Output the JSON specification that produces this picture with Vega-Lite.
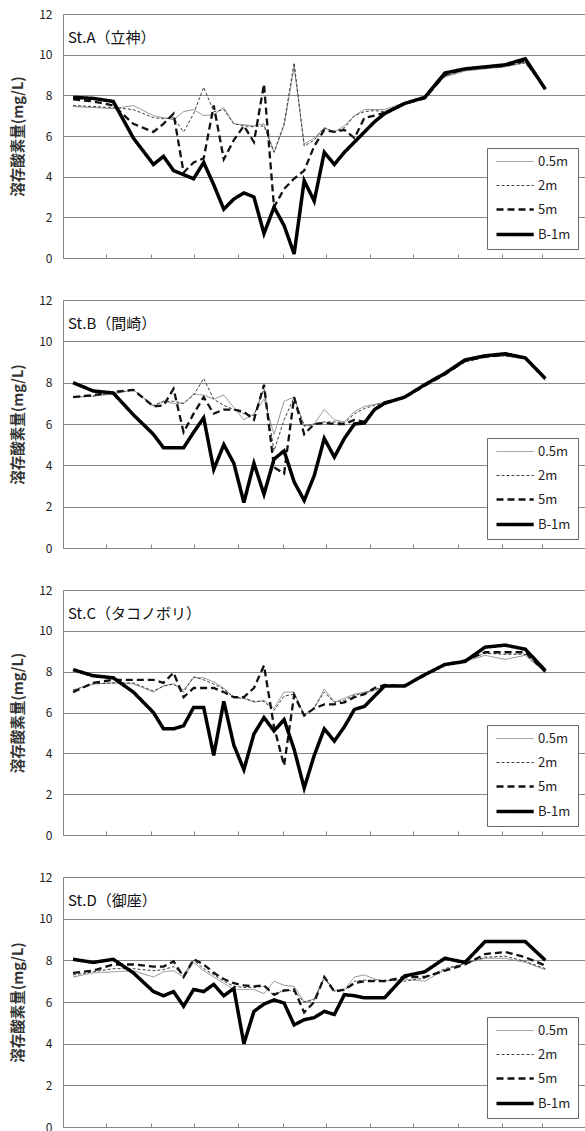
{
"$schema":"https://vega.github.io/schema/vega-lite/v6.json",
"background":"white",
"padding":{"left":10,"top":8,"right":0,"bottom":0},
"bounds":"flush",
"spacing":42,
"config":{
"font":"Noto Sans CJK JP",
"view":{"stroke":null},
"axisY":{"domainColor":"#868686","gridColor":"#868686","gridWidth":1,"ticks":false,"labelPadding":11,"labelFontSize":12,"labelColor":"#222","titleFontSize":14.5,"titleFontWeight":"bold","titleColor":"#333","titlePadding":13,"values":[0,2,4,6,8,10,12]},
"axisX":{"domainColor":"#868686","tickColor":"#868686","tickSize":-4,"labels":false,"grid":false,"title":null},
"legend":{"orient":"bottom-right","offset":9,"title":null,"symbolType":"M-1,0H5.2","symbolSize":144,"symbolOffset":2,"labelOffset":29,"labelFontSize":13,"labelColor":"#222","strokeColor":"#666","fillColor":"white","padding":7,"rowPadding":10}
},
"resolve":{"scale":{"x":"independent","y":"independent","color":"independent","strokeDash":"independent"},"legend":{"color":"independent","strokeDash":"independent"}},
"datasets":{
"A":[
{"date":"2010-04-08","depth":"0.5m","do":7.45},{"date":"2010-04-22","depth":"0.5m","do":7.4},{"date":"2010-05-06","depth":"0.5m","do":7.35},{"date":"2010-05-20","depth":"0.5m","do":7.5},{"date":"2010-06-03","depth":"0.5m","do":7.0},{"date":"2010-06-10","depth":"0.5m","do":6.9},{"date":"2010-06-17","depth":"0.5m","do":6.8},{"date":"2010-06-24","depth":"0.5m","do":7.2},{"date":"2010-07-01","depth":"0.5m","do":7.3},{"date":"2010-07-08","depth":"0.5m","do":7.0},{"date":"2010-07-15","depth":"0.5m","do":7.05},{"date":"2010-07-22","depth":"0.5m","do":7.4},{"date":"2010-07-29","depth":"0.5m","do":6.6},{"date":"2010-08-05","depth":"0.5m","do":6.55},{"date":"2010-08-12","depth":"0.5m","do":6.5},{"date":"2010-08-19","depth":"0.5m","do":6.6},{"date":"2010-08-26","depth":"0.5m","do":5.2},{"date":"2010-09-02","depth":"0.5m","do":6.5},{"date":"2010-09-09","depth":"0.5m","do":9.4},{"date":"2010-09-16","depth":"0.5m","do":5.6},{"date":"2010-09-23","depth":"0.5m","do":5.9},{"date":"2010-09-30","depth":"0.5m","do":6.4},{"date":"2010-10-07","depth":"0.5m","do":6.2},{"date":"2010-10-14","depth":"0.5m","do":6.5},{"date":"2010-10-21","depth":"0.5m","do":7.0},{"date":"2010-10-28","depth":"0.5m","do":7.3},{"date":"2010-11-04","depth":"0.5m","do":7.3},{"date":"2010-11-11","depth":"0.5m","do":7.3},{"date":"2010-11-25","depth":"0.5m","do":7.65},{"date":"2010-12-09","depth":"0.5m","do":7.9},{"date":"2010-12-23","depth":"0.5m","do":8.9},{"date":"2011-01-06","depth":"0.5m","do":9.2},{"date":"2011-02-03","depth":"0.5m","do":9.4},{"date":"2011-02-17","depth":"0.5m","do":9.6},{"date":"2011-03-03","depth":"0.5m","do":8.3},
{"date":"2010-04-08","depth":"2m","do":7.5},{"date":"2010-04-22","depth":"2m","do":7.45},{"date":"2010-05-06","depth":"2m","do":7.4},{"date":"2010-05-20","depth":"2m","do":7.3},{"date":"2010-06-03","depth":"2m","do":6.9},{"date":"2010-06-10","depth":"2m","do":6.85},{"date":"2010-06-17","depth":"2m","do":6.9},{"date":"2010-06-24","depth":"2m","do":6.2},{"date":"2010-07-01","depth":"2m","do":7.1},{"date":"2010-07-08","depth":"2m","do":8.4},{"date":"2010-07-15","depth":"2m","do":7.2},{"date":"2010-07-22","depth":"2m","do":7.3},{"date":"2010-07-29","depth":"2m","do":6.6},{"date":"2010-08-05","depth":"2m","do":6.5},{"date":"2010-08-12","depth":"2m","do":6.45},{"date":"2010-08-19","depth":"2m","do":6.5},{"date":"2010-08-26","depth":"2m","do":5.2},{"date":"2010-09-02","depth":"2m","do":6.6},{"date":"2010-09-09","depth":"2m","do":9.6},{"date":"2010-09-16","depth":"2m","do":5.5},{"date":"2010-09-23","depth":"2m","do":5.8},{"date":"2010-09-30","depth":"2m","do":6.4},{"date":"2010-10-07","depth":"2m","do":6.2},{"date":"2010-10-14","depth":"2m","do":6.4},{"date":"2010-10-21","depth":"2m","do":7.0},{"date":"2010-10-28","depth":"2m","do":7.2},{"date":"2010-11-04","depth":"2m","do":7.25},{"date":"2010-11-11","depth":"2m","do":7.2},{"date":"2010-11-25","depth":"2m","do":7.65},{"date":"2010-12-09","depth":"2m","do":7.9},{"date":"2010-12-23","depth":"2m","do":8.95},{"date":"2011-01-06","depth":"2m","do":9.25},{"date":"2011-02-03","depth":"2m","do":9.45},{"date":"2011-02-17","depth":"2m","do":9.6},{"date":"2011-03-03","depth":"2m","do":8.3},
{"date":"2010-04-08","depth":"5m","do":7.8},{"date":"2010-04-22","depth":"5m","do":7.7},{"date":"2010-05-06","depth":"5m","do":7.5},{"date":"2010-05-20","depth":"5m","do":6.6},{"date":"2010-06-03","depth":"5m","do":6.2},{"date":"2010-06-10","depth":"5m","do":6.6},{"date":"2010-06-17","depth":"5m","do":7.1},{"date":"2010-06-24","depth":"5m","do":4.2},{"date":"2010-07-01","depth":"5m","do":4.7},{"date":"2010-07-08","depth":"5m","do":4.9},{"date":"2010-07-15","depth":"5m","do":7.5},{"date":"2010-07-22","depth":"5m","do":4.85},{"date":"2010-07-29","depth":"5m","do":5.8},{"date":"2010-08-05","depth":"5m","do":6.5},{"date":"2010-08-12","depth":"5m","do":5.7},{"date":"2010-08-19","depth":"5m","do":8.55},{"date":"2010-08-26","depth":"5m","do":2.5},{"date":"2010-09-02","depth":"5m","do":3.4},{"date":"2010-09-09","depth":"5m","do":3.9},{"date":"2010-09-16","depth":"5m","do":4.3},{"date":"2010-09-23","depth":"5m","do":5.5},{"date":"2010-09-30","depth":"5m","do":6.3},{"date":"2010-10-07","depth":"5m","do":6.2},{"date":"2010-10-14","depth":"5m","do":6.3},{"date":"2010-10-21","depth":"5m","do":5.9},{"date":"2010-10-28","depth":"5m","do":6.9},{"date":"2010-11-04","depth":"5m","do":7.0},{"date":"2010-11-11","depth":"5m","do":7.15},{"date":"2010-11-25","depth":"5m","do":7.6},{"date":"2010-12-09","depth":"5m","do":7.85},{"date":"2010-12-23","depth":"5m","do":9.0},{"date":"2011-01-06","depth":"5m","do":9.3},{"date":"2011-02-03","depth":"5m","do":9.45},{"date":"2011-02-17","depth":"5m","do":9.7},{"date":"2011-03-03","depth":"5m","do":8.3},
{"date":"2010-04-08","depth":"B-1m","do":7.9},{"date":"2010-04-22","depth":"B-1m","do":7.85},{"date":"2010-05-06","depth":"B-1m","do":7.7},{"date":"2010-05-20","depth":"B-1m","do":5.9},{"date":"2010-06-03","depth":"B-1m","do":4.6},{"date":"2010-06-10","depth":"B-1m","do":5.0},{"date":"2010-06-17","depth":"B-1m","do":4.3},{"date":"2010-06-24","depth":"B-1m","do":4.1},{"date":"2010-07-01","depth":"B-1m","do":3.9},{"date":"2010-07-08","depth":"B-1m","do":4.7},{"date":"2010-07-15","depth":"B-1m","do":3.6},{"date":"2010-07-22","depth":"B-1m","do":2.4},{"date":"2010-07-29","depth":"B-1m","do":2.9},{"date":"2010-08-05","depth":"B-1m","do":3.2},{"date":"2010-08-12","depth":"B-1m","do":3.0},{"date":"2010-08-19","depth":"B-1m","do":1.2},{"date":"2010-08-26","depth":"B-1m","do":2.5},{"date":"2010-09-02","depth":"B-1m","do":1.6},{"date":"2010-09-09","depth":"B-1m","do":0.2},{"date":"2010-09-16","depth":"B-1m","do":3.8},{"date":"2010-09-23","depth":"B-1m","do":2.8},{"date":"2010-09-30","depth":"B-1m","do":5.2},{"date":"2010-10-07","depth":"B-1m","do":4.6},{"date":"2010-10-14","depth":"B-1m","do":5.2},{"date":"2010-10-21","depth":"B-1m","do":5.7},{"date":"2010-10-28","depth":"B-1m","do":6.2},{"date":"2010-11-04","depth":"B-1m","do":6.7},{"date":"2010-11-11","depth":"B-1m","do":7.1},{"date":"2010-11-25","depth":"B-1m","do":7.6},{"date":"2010-12-09","depth":"B-1m","do":7.9},{"date":"2010-12-23","depth":"B-1m","do":9.1},{"date":"2011-01-06","depth":"B-1m","do":9.3},{"date":"2011-02-03","depth":"B-1m","do":9.5},{"date":"2011-02-17","depth":"B-1m","do":9.8},{"date":"2011-03-03","depth":"B-1m","do":8.3}
],
"B":[
{"date":"2010-04-08","depth":"0.5m","do":7.3},{"date":"2010-04-22","depth":"0.5m","do":7.35},{"date":"2010-05-06","depth":"0.5m","do":7.45},{"date":"2010-05-20","depth":"0.5m","do":7.65},{"date":"2010-06-03","depth":"0.5m","do":6.85},{"date":"2010-06-10","depth":"0.5m","do":7.1},{"date":"2010-06-17","depth":"0.5m","do":7.0},{"date":"2010-06-24","depth":"0.5m","do":7.0},{"date":"2010-07-01","depth":"0.5m","do":7.45},{"date":"2010-07-08","depth":"0.5m","do":7.4},{"date":"2010-07-15","depth":"0.5m","do":7.2},{"date":"2010-07-22","depth":"0.5m","do":7.4},{"date":"2010-07-29","depth":"0.5m","do":6.8},{"date":"2010-08-05","depth":"0.5m","do":6.2},{"date":"2010-08-12","depth":"0.5m","do":6.5},{"date":"2010-08-19","depth":"0.5m","do":7.2},{"date":"2010-08-26","depth":"0.5m","do":5.5},{"date":"2010-09-02","depth":"0.5m","do":7.1},{"date":"2010-09-09","depth":"0.5m","do":7.3},{"date":"2010-09-16","depth":"0.5m","do":5.9},{"date":"2010-09-23","depth":"0.5m","do":6.0},{"date":"2010-09-30","depth":"0.5m","do":6.7},{"date":"2010-10-07","depth":"0.5m","do":6.2},{"date":"2010-10-14","depth":"0.5m","do":6.1},{"date":"2010-10-21","depth":"0.5m","do":6.6},{"date":"2010-10-28","depth":"0.5m","do":6.85},{"date":"2010-11-04","depth":"0.5m","do":6.95},{"date":"2010-11-11","depth":"0.5m","do":7.05},{"date":"2010-11-25","depth":"0.5m","do":7.3},{"date":"2010-12-09","depth":"0.5m","do":7.85},{"date":"2010-12-23","depth":"0.5m","do":8.4},{"date":"2011-01-06","depth":"0.5m","do":9.0},{"date":"2011-01-20","depth":"0.5m","do":9.25},{"date":"2011-02-03","depth":"0.5m","do":9.3},{"date":"2011-02-17","depth":"0.5m","do":9.15},{"date":"2011-03-03","depth":"0.5m","do":8.1},
{"date":"2010-04-08","depth":"2m","do":7.3},{"date":"2010-04-22","depth":"2m","do":7.35},{"date":"2010-05-06","depth":"2m","do":7.5},{"date":"2010-05-20","depth":"2m","do":7.65},{"date":"2010-06-03","depth":"2m","do":6.9},{"date":"2010-06-10","depth":"2m","do":7.1},{"date":"2010-06-17","depth":"2m","do":7.1},{"date":"2010-06-24","depth":"2m","do":7.0},{"date":"2010-07-01","depth":"2m","do":7.4},{"date":"2010-07-08","depth":"2m","do":8.2},{"date":"2010-07-15","depth":"2m","do":7.2},{"date":"2010-07-22","depth":"2m","do":6.9},{"date":"2010-07-29","depth":"2m","do":6.7},{"date":"2010-08-05","depth":"2m","do":6.5},{"date":"2010-08-12","depth":"2m","do":6.4},{"date":"2010-08-19","depth":"2m","do":7.7},{"date":"2010-08-26","depth":"2m","do":4.7},{"date":"2010-09-02","depth":"2m","do":6.2},{"date":"2010-09-09","depth":"2m","do":7.3},{"date":"2010-09-16","depth":"2m","do":5.9},{"date":"2010-09-23","depth":"2m","do":6.0},{"date":"2010-09-30","depth":"2m","do":6.1},{"date":"2010-10-07","depth":"2m","do":6.1},{"date":"2010-10-14","depth":"2m","do":6.05},{"date":"2010-10-21","depth":"2m","do":6.5},{"date":"2010-10-28","depth":"2m","do":6.75},{"date":"2010-11-04","depth":"2m","do":6.9},{"date":"2010-11-11","depth":"2m","do":7.05},{"date":"2010-11-25","depth":"2m","do":7.3},{"date":"2010-12-09","depth":"2m","do":7.85},{"date":"2010-12-23","depth":"2m","do":8.4},{"date":"2011-01-06","depth":"2m","do":9.0},{"date":"2011-01-20","depth":"2m","do":9.25},{"date":"2011-02-03","depth":"2m","do":9.3},{"date":"2011-02-17","depth":"2m","do":9.15},{"date":"2011-03-03","depth":"2m","do":8.1},
{"date":"2010-04-08","depth":"5m","do":7.3},{"date":"2010-04-22","depth":"5m","do":7.4},{"date":"2010-05-06","depth":"5m","do":7.55},{"date":"2010-05-20","depth":"5m","do":7.65},{"date":"2010-06-03","depth":"5m","do":6.85},{"date":"2010-06-10","depth":"5m","do":6.9},{"date":"2010-06-17","depth":"5m","do":7.7},{"date":"2010-06-24","depth":"5m","do":5.6},{"date":"2010-07-01","depth":"5m","do":6.5},{"date":"2010-07-08","depth":"5m","do":7.3},{"date":"2010-07-15","depth":"5m","do":6.5},{"date":"2010-07-22","depth":"5m","do":6.7},{"date":"2010-07-29","depth":"5m","do":6.7},{"date":"2010-08-05","depth":"5m","do":6.6},{"date":"2010-08-12","depth":"5m","do":6.2},{"date":"2010-08-19","depth":"5m","do":7.9},{"date":"2010-08-26","depth":"5m","do":3.9},{"date":"2010-09-02","depth":"5m","do":3.6},{"date":"2010-09-09","depth":"5m","do":7.3},{"date":"2010-09-16","depth":"5m","do":5.5},{"date":"2010-09-23","depth":"5m","do":6.0},{"date":"2010-09-30","depth":"5m","do":6.05},{"date":"2010-10-07","depth":"5m","do":6.0},{"date":"2010-10-14","depth":"5m","do":6.0},{"date":"2010-10-21","depth":"5m","do":6.2},{"date":"2010-10-28","depth":"5m","do":6.1},{"date":"2010-11-04","depth":"5m","do":6.7},{"date":"2010-11-11","depth":"5m","do":7.05},{"date":"2010-11-25","depth":"5m","do":7.3},{"date":"2010-12-09","depth":"5m","do":7.85},{"date":"2010-12-23","depth":"5m","do":8.4},{"date":"2011-01-06","depth":"5m","do":9.05},{"date":"2011-01-20","depth":"5m","do":9.25},{"date":"2011-02-03","depth":"5m","do":9.35},{"date":"2011-02-17","depth":"5m","do":9.2},{"date":"2011-03-03","depth":"5m","do":8.2},
{"date":"2010-04-08","depth":"B-1m","do":8.0},{"date":"2010-04-22","depth":"B-1m","do":7.6},{"date":"2010-05-06","depth":"B-1m","do":7.5},{"date":"2010-05-20","depth":"B-1m","do":6.45},{"date":"2010-06-03","depth":"B-1m","do":5.5},{"date":"2010-06-10","depth":"B-1m","do":4.85},{"date":"2010-06-17","depth":"B-1m","do":4.85},{"date":"2010-06-24","depth":"B-1m","do":4.85},{"date":"2010-07-01","depth":"B-1m","do":5.6},{"date":"2010-07-08","depth":"B-1m","do":6.3},{"date":"2010-07-15","depth":"B-1m","do":3.8},{"date":"2010-07-22","depth":"B-1m","do":5.0},{"date":"2010-07-29","depth":"B-1m","do":4.1},{"date":"2010-08-05","depth":"B-1m","do":2.2},{"date":"2010-08-12","depth":"B-1m","do":4.1},{"date":"2010-08-19","depth":"B-1m","do":2.6},{"date":"2010-08-26","depth":"B-1m","do":4.3},{"date":"2010-09-02","depth":"B-1m","do":4.7},{"date":"2010-09-09","depth":"B-1m","do":3.2},{"date":"2010-09-16","depth":"B-1m","do":2.3},{"date":"2010-09-23","depth":"B-1m","do":3.5},{"date":"2010-09-30","depth":"B-1m","do":5.3},{"date":"2010-10-07","depth":"B-1m","do":4.4},{"date":"2010-10-14","depth":"B-1m","do":5.3},{"date":"2010-10-21","depth":"B-1m","do":6.0},{"date":"2010-10-28","depth":"B-1m","do":6.05},{"date":"2010-11-04","depth":"B-1m","do":6.7},{"date":"2010-11-11","depth":"B-1m","do":7.0},{"date":"2010-11-25","depth":"B-1m","do":7.3},{"date":"2010-12-09","depth":"B-1m","do":7.9},{"date":"2010-12-23","depth":"B-1m","do":8.45},{"date":"2011-01-06","depth":"B-1m","do":9.1},{"date":"2011-01-20","depth":"B-1m","do":9.3},{"date":"2011-02-03","depth":"B-1m","do":9.4},{"date":"2011-02-17","depth":"B-1m","do":9.2},{"date":"2011-03-03","depth":"B-1m","do":8.2}
],
"C":[
{"date":"2010-04-08","depth":"0.5m","do":7.1},{"date":"2010-04-22","depth":"0.5m","do":7.4},{"date":"2010-05-06","depth":"0.5m","do":7.45},{"date":"2010-05-20","depth":"0.5m","do":7.4},{"date":"2010-06-03","depth":"0.5m","do":7.0},{"date":"2010-06-10","depth":"0.5m","do":7.3},{"date":"2010-06-17","depth":"0.5m","do":7.4},{"date":"2010-06-24","depth":"0.5m","do":7.1},{"date":"2010-07-01","depth":"0.5m","do":7.7},{"date":"2010-07-08","depth":"0.5m","do":7.7},{"date":"2010-07-15","depth":"0.5m","do":7.5},{"date":"2010-07-22","depth":"0.5m","do":7.2},{"date":"2010-07-29","depth":"0.5m","do":6.7},{"date":"2010-08-05","depth":"0.5m","do":6.7},{"date":"2010-08-12","depth":"0.5m","do":6.5},{"date":"2010-08-19","depth":"0.5m","do":6.6},{"date":"2010-08-26","depth":"0.5m","do":6.2},{"date":"2010-09-02","depth":"0.5m","do":7.0},{"date":"2010-09-09","depth":"0.5m","do":7.0},{"date":"2010-09-16","depth":"0.5m","do":5.85},{"date":"2010-09-23","depth":"0.5m","do":6.2},{"date":"2010-09-30","depth":"0.5m","do":7.15},{"date":"2010-10-07","depth":"0.5m","do":6.5},{"date":"2010-10-14","depth":"0.5m","do":6.7},{"date":"2010-10-21","depth":"0.5m","do":6.9},{"date":"2010-10-28","depth":"0.5m","do":7.0},{"date":"2010-11-04","depth":"0.5m","do":7.1},{"date":"2010-11-11","depth":"0.5m","do":7.3},{"date":"2010-11-25","depth":"0.5m","do":7.3},{"date":"2010-12-09","depth":"0.5m","do":7.85},{"date":"2010-12-23","depth":"0.5m","do":8.35},{"date":"2011-01-06","depth":"0.5m","do":8.5},{"date":"2011-01-20","depth":"0.5m","do":8.8},{"date":"2011-02-03","depth":"0.5m","do":8.6},{"date":"2011-02-17","depth":"0.5m","do":8.8},{"date":"2011-03-03","depth":"0.5m","do":7.95},
{"date":"2010-04-08","depth":"2m","do":7.1},{"date":"2010-04-22","depth":"2m","do":7.4},{"date":"2010-05-06","depth":"2m","do":7.45},{"date":"2010-05-20","depth":"2m","do":7.45},{"date":"2010-06-03","depth":"2m","do":7.05},{"date":"2010-06-10","depth":"2m","do":7.3},{"date":"2010-06-17","depth":"2m","do":7.4},{"date":"2010-06-24","depth":"2m","do":7.0},{"date":"2010-07-01","depth":"2m","do":7.75},{"date":"2010-07-08","depth":"2m","do":7.6},{"date":"2010-07-15","depth":"2m","do":7.4},{"date":"2010-07-22","depth":"2m","do":7.15},{"date":"2010-07-29","depth":"2m","do":6.75},{"date":"2010-08-05","depth":"2m","do":6.7},{"date":"2010-08-12","depth":"2m","do":6.55},{"date":"2010-08-19","depth":"2m","do":6.55},{"date":"2010-08-26","depth":"2m","do":6.1},{"date":"2010-09-02","depth":"2m","do":6.8},{"date":"2010-09-09","depth":"2m","do":6.9},{"date":"2010-09-16","depth":"2m","do":5.9},{"date":"2010-09-23","depth":"2m","do":6.25},{"date":"2010-09-30","depth":"2m","do":7.0},{"date":"2010-10-07","depth":"2m","do":6.5},{"date":"2010-10-14","depth":"2m","do":6.6},{"date":"2010-10-21","depth":"2m","do":6.85},{"date":"2010-10-28","depth":"2m","do":6.95},{"date":"2010-11-04","depth":"2m","do":7.1},{"date":"2010-11-11","depth":"2m","do":7.3},{"date":"2010-11-25","depth":"2m","do":7.3},{"date":"2010-12-09","depth":"2m","do":7.85},{"date":"2010-12-23","depth":"2m","do":8.35},{"date":"2011-01-06","depth":"2m","do":8.55},{"date":"2011-01-20","depth":"2m","do":8.9},{"date":"2011-02-03","depth":"2m","do":8.85},{"date":"2011-02-17","depth":"2m","do":8.85},{"date":"2011-03-03","depth":"2m","do":7.95},
{"date":"2010-04-08","depth":"5m","do":7.0},{"date":"2010-04-22","depth":"5m","do":7.45},{"date":"2010-05-06","depth":"5m","do":7.6},{"date":"2010-05-20","depth":"5m","do":7.6},{"date":"2010-06-03","depth":"5m","do":7.6},{"date":"2010-06-10","depth":"5m","do":7.45},{"date":"2010-06-17","depth":"5m","do":7.95},{"date":"2010-06-24","depth":"5m","do":6.75},{"date":"2010-07-01","depth":"5m","do":7.2},{"date":"2010-07-08","depth":"5m","do":7.2},{"date":"2010-07-15","depth":"5m","do":7.2},{"date":"2010-07-22","depth":"5m","do":7.0},{"date":"2010-07-29","depth":"5m","do":6.75},{"date":"2010-08-05","depth":"5m","do":6.75},{"date":"2010-08-12","depth":"5m","do":7.2},{"date":"2010-08-19","depth":"5m","do":8.3},{"date":"2010-08-26","depth":"5m","do":5.3},{"date":"2010-09-02","depth":"5m","do":3.4},{"date":"2010-09-09","depth":"5m","do":6.85},{"date":"2010-09-16","depth":"5m","do":5.85},{"date":"2010-09-23","depth":"5m","do":6.2},{"date":"2010-09-30","depth":"5m","do":6.4},{"date":"2010-10-07","depth":"5m","do":6.4},{"date":"2010-10-14","depth":"5m","do":6.5},{"date":"2010-10-21","depth":"5m","do":6.75},{"date":"2010-10-28","depth":"5m","do":6.9},{"date":"2010-11-04","depth":"5m","do":7.2},{"date":"2010-11-11","depth":"5m","do":7.35},{"date":"2010-11-25","depth":"5m","do":7.3},{"date":"2010-12-09","depth":"5m","do":7.85},{"date":"2010-12-23","depth":"5m","do":8.35},{"date":"2011-01-06","depth":"5m","do":8.55},{"date":"2011-01-20","depth":"5m","do":8.95},{"date":"2011-02-03","depth":"5m","do":8.95},{"date":"2011-02-17","depth":"5m","do":8.95},{"date":"2011-03-03","depth":"5m","do":8.0},
{"date":"2010-04-08","depth":"B-1m","do":8.1},{"date":"2010-04-22","depth":"B-1m","do":7.8},{"date":"2010-05-06","depth":"B-1m","do":7.7},{"date":"2010-05-20","depth":"B-1m","do":7.0},{"date":"2010-06-03","depth":"B-1m","do":6.0},{"date":"2010-06-10","depth":"B-1m","do":5.2},{"date":"2010-06-17","depth":"B-1m","do":5.2},{"date":"2010-06-24","depth":"B-1m","do":5.35},{"date":"2010-07-01","depth":"B-1m","do":6.25},{"date":"2010-07-08","depth":"B-1m","do":6.25},{"date":"2010-07-15","depth":"B-1m","do":3.9},{"date":"2010-07-22","depth":"B-1m","do":6.55},{"date":"2010-07-29","depth":"B-1m","do":4.4},{"date":"2010-08-05","depth":"B-1m","do":3.2},{"date":"2010-08-12","depth":"B-1m","do":4.95},{"date":"2010-08-19","depth":"B-1m","do":5.75},{"date":"2010-08-26","depth":"B-1m","do":5.1},{"date":"2010-09-02","depth":"B-1m","do":5.65},{"date":"2010-09-09","depth":"B-1m","do":4.2},{"date":"2010-09-16","depth":"B-1m","do":2.3},{"date":"2010-09-23","depth":"B-1m","do":3.9},{"date":"2010-09-30","depth":"B-1m","do":5.2},{"date":"2010-10-07","depth":"B-1m","do":4.6},{"date":"2010-10-14","depth":"B-1m","do":5.3},{"date":"2010-10-21","depth":"B-1m","do":6.15},{"date":"2010-10-28","depth":"B-1m","do":6.3},{"date":"2010-11-04","depth":"B-1m","do":6.8},{"date":"2010-11-11","depth":"B-1m","do":7.3},{"date":"2010-11-25","depth":"B-1m","do":7.3},{"date":"2010-12-09","depth":"B-1m","do":7.85},{"date":"2010-12-23","depth":"B-1m","do":8.35},{"date":"2011-01-06","depth":"B-1m","do":8.5},{"date":"2011-01-20","depth":"B-1m","do":9.2},{"date":"2011-02-03","depth":"B-1m","do":9.3},{"date":"2011-02-17","depth":"B-1m","do":9.1},{"date":"2011-03-03","depth":"B-1m","do":8.05}
],
"D":[
{"date":"2010-04-08","depth":"0.5m","do":7.2},{"date":"2010-04-22","depth":"0.5m","do":7.4},{"date":"2010-05-06","depth":"0.5m","do":7.45},{"date":"2010-05-20","depth":"0.5m","do":7.5},{"date":"2010-06-03","depth":"0.5m","do":7.2},{"date":"2010-06-10","depth":"0.5m","do":7.45},{"date":"2010-06-17","depth":"0.5m","do":7.5},{"date":"2010-06-24","depth":"0.5m","do":7.2},{"date":"2010-07-01","depth":"0.5m","do":7.9},{"date":"2010-07-08","depth":"0.5m","do":7.5},{"date":"2010-07-15","depth":"0.5m","do":7.2},{"date":"2010-07-22","depth":"0.5m","do":6.9},{"date":"2010-07-29","depth":"0.5m","do":6.6},{"date":"2010-08-05","depth":"0.5m","do":6.6},{"date":"2010-08-12","depth":"0.5m","do":6.6},{"date":"2010-08-19","depth":"0.5m","do":6.4},{"date":"2010-08-26","depth":"0.5m","do":7.0},{"date":"2010-09-02","depth":"0.5m","do":6.8},{"date":"2010-09-09","depth":"0.5m","do":6.75},{"date":"2010-09-16","depth":"0.5m","do":6.0},{"date":"2010-09-23","depth":"0.5m","do":6.15},{"date":"2010-09-30","depth":"0.5m","do":7.2},{"date":"2010-10-07","depth":"0.5m","do":6.55},{"date":"2010-10-14","depth":"0.5m","do":6.6},{"date":"2010-10-21","depth":"0.5m","do":7.2},{"date":"2010-10-28","depth":"0.5m","do":7.3},{"date":"2010-11-04","depth":"0.5m","do":7.1},{"date":"2010-11-11","depth":"0.5m","do":7.0},{"date":"2010-11-25","depth":"0.5m","do":7.1},{"date":"2010-12-09","depth":"0.5m","do":7.0},{"date":"2010-12-23","depth":"0.5m","do":7.55},{"date":"2011-01-06","depth":"0.5m","do":7.85},{"date":"2011-01-20","depth":"0.5m","do":8.1},{"date":"2011-02-03","depth":"0.5m","do":8.1},{"date":"2011-02-17","depth":"0.5m","do":7.9},{"date":"2011-03-03","depth":"0.5m","do":7.55},
{"date":"2010-04-08","depth":"2m","do":7.3},{"date":"2010-04-22","depth":"2m","do":7.45},{"date":"2010-05-06","depth":"2m","do":7.6},{"date":"2010-05-20","depth":"2m","do":7.6},{"date":"2010-06-03","depth":"2m","do":7.5},{"date":"2010-06-10","depth":"2m","do":7.55},{"date":"2010-06-17","depth":"2m","do":7.7},{"date":"2010-06-24","depth":"2m","do":7.3},{"date":"2010-07-01","depth":"2m","do":8.0},{"date":"2010-07-08","depth":"2m","do":7.6},{"date":"2010-07-15","depth":"2m","do":7.3},{"date":"2010-07-22","depth":"2m","do":7.0},{"date":"2010-07-29","depth":"2m","do":6.75},{"date":"2010-08-05","depth":"2m","do":6.7},{"date":"2010-08-12","depth":"2m","do":6.7},{"date":"2010-08-19","depth":"2m","do":6.75},{"date":"2010-08-26","depth":"2m","do":6.3},{"date":"2010-09-02","depth":"2m","do":6.6},{"date":"2010-09-09","depth":"2m","do":6.5},{"date":"2010-09-16","depth":"2m","do":6.0},{"date":"2010-09-23","depth":"2m","do":6.1},{"date":"2010-09-30","depth":"2m","do":7.15},{"date":"2010-10-07","depth":"2m","do":6.5},{"date":"2010-10-14","depth":"2m","do":6.55},{"date":"2010-10-21","depth":"2m","do":7.0},{"date":"2010-10-28","depth":"2m","do":7.05},{"date":"2010-11-04","depth":"2m","do":7.05},{"date":"2010-11-11","depth":"2m","do":7.05},{"date":"2010-11-25","depth":"2m","do":7.0},{"date":"2010-12-09","depth":"2m","do":7.15},{"date":"2010-12-23","depth":"2m","do":7.6},{"date":"2011-01-06","depth":"2m","do":7.85},{"date":"2011-01-20","depth":"2m","do":8.15},{"date":"2011-02-03","depth":"2m","do":8.2},{"date":"2011-02-17","depth":"2m","do":7.95},{"date":"2011-03-03","depth":"2m","do":7.6},
{"date":"2010-04-08","depth":"5m","do":7.4},{"date":"2010-04-22","depth":"5m","do":7.5},{"date":"2010-05-06","depth":"5m","do":7.8},{"date":"2010-05-20","depth":"5m","do":7.8},{"date":"2010-06-03","depth":"5m","do":7.7},{"date":"2010-06-10","depth":"5m","do":7.7},{"date":"2010-06-17","depth":"5m","do":7.95},{"date":"2010-06-24","depth":"5m","do":7.2},{"date":"2010-07-01","depth":"5m","do":8.05},{"date":"2010-07-08","depth":"5m","do":7.8},{"date":"2010-07-15","depth":"5m","do":7.4},{"date":"2010-07-22","depth":"5m","do":7.1},{"date":"2010-07-29","depth":"5m","do":6.9},{"date":"2010-08-05","depth":"5m","do":6.8},{"date":"2010-08-12","depth":"5m","do":6.75},{"date":"2010-08-19","depth":"5m","do":6.8},{"date":"2010-08-26","depth":"5m","do":6.35},{"date":"2010-09-02","depth":"5m","do":6.55},{"date":"2010-09-09","depth":"5m","do":6.6},{"date":"2010-09-16","depth":"5m","do":5.5},{"date":"2010-09-23","depth":"5m","do":6.0},{"date":"2010-09-30","depth":"5m","do":7.2},{"date":"2010-10-07","depth":"5m","do":6.5},{"date":"2010-10-14","depth":"5m","do":6.6},{"date":"2010-10-21","depth":"5m","do":6.9},{"date":"2010-10-28","depth":"5m","do":7.0},{"date":"2010-11-04","depth":"5m","do":7.0},{"date":"2010-11-11","depth":"5m","do":7.0},{"date":"2010-11-25","depth":"5m","do":7.2},{"date":"2010-12-09","depth":"5m","do":7.2},{"date":"2010-12-23","depth":"5m","do":7.5},{"date":"2011-01-06","depth":"5m","do":7.8},{"date":"2011-01-20","depth":"5m","do":8.3},{"date":"2011-02-03","depth":"5m","do":8.4},{"date":"2011-02-17","depth":"5m","do":8.15},{"date":"2011-03-03","depth":"5m","do":7.75},
{"date":"2010-04-08","depth":"B-1m","do":8.05},{"date":"2010-04-22","depth":"B-1m","do":7.9},{"date":"2010-05-06","depth":"B-1m","do":8.05},{"date":"2010-05-20","depth":"B-1m","do":7.4},{"date":"2010-06-03","depth":"B-1m","do":6.5},{"date":"2010-06-10","depth":"B-1m","do":6.3},{"date":"2010-06-17","depth":"B-1m","do":6.5},{"date":"2010-06-24","depth":"B-1m","do":5.8},{"date":"2010-07-01","depth":"B-1m","do":6.6},{"date":"2010-07-08","depth":"B-1m","do":6.5},{"date":"2010-07-15","depth":"B-1m","do":6.85},{"date":"2010-07-22","depth":"B-1m","do":6.3},{"date":"2010-07-29","depth":"B-1m","do":6.65},{"date":"2010-08-05","depth":"B-1m","do":4.0},{"date":"2010-08-12","depth":"B-1m","do":5.55},{"date":"2010-08-19","depth":"B-1m","do":5.9},{"date":"2010-08-26","depth":"B-1m","do":6.1},{"date":"2010-09-02","depth":"B-1m","do":5.95},{"date":"2010-09-09","depth":"B-1m","do":4.9},{"date":"2010-09-16","depth":"B-1m","do":5.15},{"date":"2010-09-23","depth":"B-1m","do":5.25},{"date":"2010-09-30","depth":"B-1m","do":5.55},{"date":"2010-10-07","depth":"B-1m","do":5.4},{"date":"2010-10-14","depth":"B-1m","do":6.35},{"date":"2010-10-21","depth":"B-1m","do":6.3},{"date":"2010-10-28","depth":"B-1m","do":6.2},{"date":"2010-11-04","depth":"B-1m","do":6.2},{"date":"2010-11-11","depth":"B-1m","do":6.2},{"date":"2010-11-25","depth":"B-1m","do":7.25},{"date":"2010-12-09","depth":"B-1m","do":7.45},{"date":"2010-12-23","depth":"B-1m","do":8.1},{"date":"2011-01-06","depth":"B-1m","do":7.9},{"date":"2011-01-20","depth":"B-1m","do":8.9},{"date":"2011-02-03","depth":"B-1m","do":8.9},{"date":"2011-02-17","depth":"B-1m","do":8.9},{"date":"2011-03-03","depth":"B-1m","do":8.0}
]
},
"vconcat":[
{"width":524,"height":244,"data":{"name":"A"},
"title":{"text":"St.A（立神）","anchor":"start","frame":"group","orient":"top","offset":-38,"dx":5,"fontSize":15,"fontWeight":"normal","color":"#111"},
"mark":{"type":"line"},
"encoding":{
"x":{"field":"date","type":"temporal","scale":{"type":"utc","domain":[{"year":2010,"month":4,"date":1,"utc":true},{"year":2011,"month":4,"date":1,"utc":true}]},"axis":{"values":[{"year":2010,"month":5,"date":1,"utc":true},{"year":2010,"month":6,"date":1,"utc":true},{"year":2010,"month":7,"date":1,"utc":true},{"year":2010,"month":8,"date":1,"utc":true},{"year":2010,"month":9,"date":1,"utc":true},{"year":2010,"month":10,"date":1,"utc":true},{"year":2010,"month":11,"date":1,"utc":true},{"year":2010,"month":12,"date":1,"utc":true},{"year":2011,"month":1,"date":1,"utc":true},{"year":2011,"month":2,"date":1,"utc":true},{"year":2011,"month":3,"date":1,"utc":true},{"year":2011,"month":4,"date":1,"utc":true}]}},
"y":{"field":"do","type":"quantitative","scale":{"domain":[0,12]},"axis":{"title":"溶存酸素量(mg/L)"}},
"color":{"field":"depth","type":"nominal","scale":{"domain":["0.5m","2m","5m","B-1m"],"range":["#8c8c8c","#3c3c3c","#111111","#000000"]},"legend":{"encode":{"symbols":{"update":{"strokeWidth":{"signal":"datum.value === 'B-1m' ? 3.5 : datum.value === '5m' ? 2.3 : 1"}}}}}},
"strokeDash":{"field":"depth","type":"nominal","scale":{"domain":["0.5m","2m","5m","B-1m"],"range":[[1,0],[3,2],[7,4],[1,0]]}},
"strokeWidth":{"condition":[{"test":"datum.depth === 'B-1m'","value":3.5},{"test":"datum.depth === '5m'","value":2.3}],"value":1}
}},
{"width":524,"height":248,"data":{"name":"B"},
"title":{"text":"St.B（間崎）","anchor":"start","frame":"group","orient":"top","offset":-38,"dx":5,"fontSize":15,"fontWeight":"normal","color":"#111"},
"mark":{"type":"line"},
"encoding":{
"x":{"field":"date","type":"temporal","scale":{"type":"utc","domain":[{"year":2010,"month":4,"date":1,"utc":true},{"year":2011,"month":4,"date":1,"utc":true}]},"axis":{"values":[{"year":2010,"month":5,"date":1,"utc":true},{"year":2010,"month":6,"date":1,"utc":true},{"year":2010,"month":7,"date":1,"utc":true},{"year":2010,"month":8,"date":1,"utc":true},{"year":2010,"month":9,"date":1,"utc":true},{"year":2010,"month":10,"date":1,"utc":true},{"year":2010,"month":11,"date":1,"utc":true},{"year":2010,"month":12,"date":1,"utc":true},{"year":2011,"month":1,"date":1,"utc":true},{"year":2011,"month":2,"date":1,"utc":true},{"year":2011,"month":3,"date":1,"utc":true},{"year":2011,"month":4,"date":1,"utc":true}]}},
"y":{"field":"do","type":"quantitative","scale":{"domain":[0,12]},"axis":{"title":"溶存酸素量(mg/L)"}},
"color":{"field":"depth","type":"nominal","scale":{"domain":["0.5m","2m","5m","B-1m"],"range":["#8c8c8c","#3c3c3c","#111111","#000000"]},"legend":{"encode":{"symbols":{"update":{"strokeWidth":{"signal":"datum.value === 'B-1m' ? 3.5 : datum.value === '5m' ? 2.3 : 1"}}}}}},
"strokeDash":{"field":"depth","type":"nominal","scale":{"domain":["0.5m","2m","5m","B-1m"],"range":[[1,0],[3,2],[7,4],[1,0]]}},
"strokeWidth":{"condition":[{"test":"datum.depth === 'B-1m'","value":3.5},{"test":"datum.depth === '5m'","value":2.3}],"value":1}
}},
{"width":524,"height":245,"data":{"name":"C"},
"title":{"text":"St.C（タコノボリ）","anchor":"start","frame":"group","orient":"top","offset":-38,"dx":5,"fontSize":15,"fontWeight":"normal","color":"#111"},
"mark":{"type":"line"},
"encoding":{
"x":{"field":"date","type":"temporal","scale":{"type":"utc","domain":[{"year":2010,"month":4,"date":1,"utc":true},{"year":2011,"month":4,"date":1,"utc":true}]},"axis":{"values":[{"year":2010,"month":5,"date":1,"utc":true},{"year":2010,"month":6,"date":1,"utc":true},{"year":2010,"month":7,"date":1,"utc":true},{"year":2010,"month":8,"date":1,"utc":true},{"year":2010,"month":9,"date":1,"utc":true},{"year":2010,"month":10,"date":1,"utc":true},{"year":2010,"month":11,"date":1,"utc":true},{"year":2010,"month":12,"date":1,"utc":true},{"year":2011,"month":1,"date":1,"utc":true},{"year":2011,"month":2,"date":1,"utc":true},{"year":2011,"month":3,"date":1,"utc":true},{"year":2011,"month":4,"date":1,"utc":true}]}},
"y":{"field":"do","type":"quantitative","scale":{"domain":[0,12]},"axis":{"title":"溶存酸素量(mg/L)"}},
"color":{"field":"depth","type":"nominal","scale":{"domain":["0.5m","2m","5m","B-1m"],"range":["#8c8c8c","#3c3c3c","#111111","#000000"]},"legend":{"encode":{"symbols":{"update":{"strokeWidth":{"signal":"datum.value === 'B-1m' ? 3.5 : datum.value === '5m' ? 2.3 : 1"}}}}}},
"strokeDash":{"field":"depth","type":"nominal","scale":{"domain":["0.5m","2m","5m","B-1m"],"range":[[1,0],[3,2],[7,4],[1,0]]}},
"strokeWidth":{"condition":[{"test":"datum.depth === 'B-1m'","value":3.5},{"test":"datum.depth === '5m'","value":2.3}],"value":1}
}},
{"width":524,"height":250,"data":{"name":"D"},
"title":{"text":"St.D（御座）","anchor":"start","frame":"group","orient":"top","offset":-38,"dx":5,"fontSize":15,"fontWeight":"normal","color":"#111"},
"mark":{"type":"line"},
"encoding":{
"x":{"field":"date","type":"temporal","scale":{"type":"utc","domain":[{"year":2010,"month":4,"date":1,"utc":true},{"year":2011,"month":4,"date":1,"utc":true}]},"axis":{"values":[{"year":2010,"month":5,"date":1,"utc":true},{"year":2010,"month":6,"date":1,"utc":true},{"year":2010,"month":7,"date":1,"utc":true},{"year":2010,"month":8,"date":1,"utc":true},{"year":2010,"month":9,"date":1,"utc":true},{"year":2010,"month":10,"date":1,"utc":true},{"year":2010,"month":11,"date":1,"utc":true},{"year":2010,"month":12,"date":1,"utc":true},{"year":2011,"month":1,"date":1,"utc":true},{"year":2011,"month":2,"date":1,"utc":true},{"year":2011,"month":3,"date":1,"utc":true},{"year":2011,"month":4,"date":1,"utc":true}]}},
"y":{"field":"do","type":"quantitative","scale":{"domain":[0,12]},"axis":{"title":"溶存酸素量(mg/L)"}},
"color":{"field":"depth","type":"nominal","scale":{"domain":["0.5m","2m","5m","B-1m"],"range":["#8c8c8c","#3c3c3c","#111111","#000000"]},"legend":{"encode":{"symbols":{"update":{"strokeWidth":{"signal":"datum.value === 'B-1m' ? 3.5 : datum.value === '5m' ? 2.3 : 1"}}}}}},
"strokeDash":{"field":"depth","type":"nominal","scale":{"domain":["0.5m","2m","5m","B-1m"],"range":[[1,0],[3,2],[7,4],[1,0]]}},
"strokeWidth":{"condition":[{"test":"datum.depth === 'B-1m'","value":3.5},{"test":"datum.depth === '5m'","value":2.3}],"value":1}
}}
]
}
